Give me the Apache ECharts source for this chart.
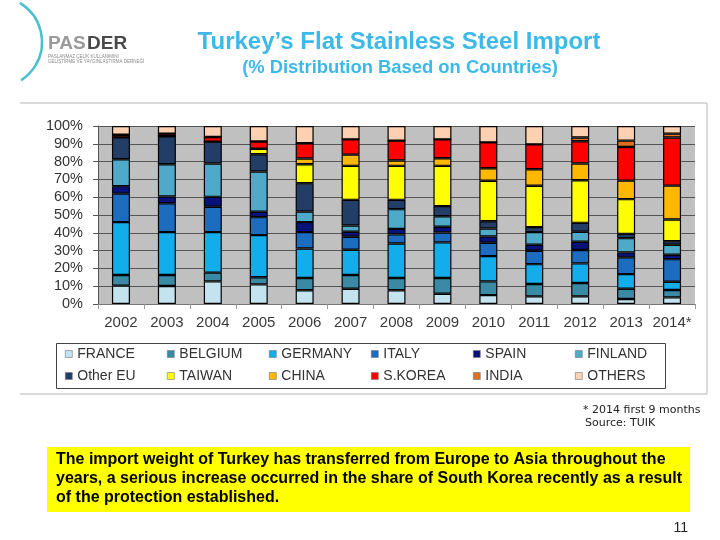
<!DOCTYPE html>
<html><head><meta charset="utf-8">
<script src="https://cdn.jsdelivr.net/npm/echarts@6/dist/echarts.min.js"></script>
<style>html,body{margin:0;padding:0;background:#fff}#c{width:720px;height:540px}</style>
</head><body><div id="c"></div>
<script>
var years = ['2002','2003','2004','2005','2006','2007','2008','2009','2010','2011','2012','2013','2014*'];
var yTicks = [0,10,20,30,40,50,60,70,80,90,100];
var france  = [10.3,10.1,12.7,11.0, 7.7, 8.6, 7.7, 5.8, 5.0, 4.3, 4.3, 2.8, 3.7];
var belgium = [ 6.0, 6.2, 4.9, 4.0, 6.9, 7.7, 6.9, 8.8, 7.7, 6.9, 7.5, 5.8, 4.2];
var germany = [29.7,24.1,22.8,23.7,16.6,14.2,19.4,20.0,14.2,11.2,11.0, 8.2, 4.6];
var italy   = [16.0,16.2,14.2,10.1, 9.2, 7.3, 5.1, 5.6, 7.5, 7.5, 7.5, 9.4,12.7];
var spain   = [ 4.2, 3.8, 5.6, 3.0, 5.6, 2.8, 3.1, 3.2, 3.5, 3.4, 4.7, 2.8, 2.5];
var finland = [15.1,18.1,18.7,22.6, 6.0, 3.5,11.1, 5.9, 4.5, 7.1, 5.6, 8.0, 5.6];
var otherEU = [12.3,15.7,12.3, 9.7,15.9,14.4, 5.2, 5.7, 4.1, 2.8, 5.0, 2.4, 2.0];
var taiwan  = [ 0.0, 0.0, 0.0, 3.1,10.6,19.1,19.1,22.6,22.7,23.2,23.9,19.5,12.2];
var china   = [ 0.0, 0.0, 0.0, 0.0, 3.2, 6.3, 3.0, 4.3, 7.1, 9.3, 9.4,10.4,19.0];
var skorea  = [ 1.5, 1.5, 2.6, 4.1, 8.6, 8.6,11.2,10.6,14.5,14.0,12.5,18.9,27.0];
var india   = [ 0.0, 0.0, 0.0, 0.0, 0.0, 0.0, 0.0, 0.0, 0.0, 0.0, 2.1, 3.6, 2.2];
var others  = [ 4.9, 4.3, 6.2, 8.7, 9.7, 7.5, 8.2, 7.5, 9.2,10.3, 6.5, 8.2, 4.3];

var seriesNames = ['FRANCE','BELGIUM','GERMANY','ITALY','SPAIN','FINLAND','Other EU','TAIWAN','CHINA','S.KOREA','INDIA','OTHERS'];
var seriesData = [france,belgium,germany,italy,spain,finland,otherEU,taiwan,china,skorea,india,others];
var colors = ['#c3e3ef','#3b8aa5','#12adea','#1c6cbf','#06127a','#4eaac8','#233e66','#ffff00','#ffb800','#ff0000','#e07020','#fcd0b0'];

var chart = echarts.init(document.getElementById('c'), null, {renderer:'canvas'});
var F = 'Liberation Sans, Arial, sans-serif';

var series = seriesNames.map(function(n,i){
  return {
    name:n, type:'bar', stack:'all', barWidth:18,
    itemStyle:{color:colors[i], borderColor:'#000', borderWidth:1.2},
    data:seriesData[i]
  };
});

var legends = seriesNames.map(function(n,i){
  return {
    data:[n], left:65 + (i%6)*102, top:(i<6?347:369), orient:'horizontal',
    icon:'rect', itemWidth:7, itemHeight:7, padding:0, itemGap:5,
    itemStyle:{borderWidth:0.6, borderColor:'#777'},
    textStyle:{fontFamily:F, fontSize:14, color:'#333'},
    selectedMode:false
  };
});

chart.setOption({
  animation:false,
  backgroundColor:'#fff',
  color:colors,
  grid:{left:98, right:25, top:126, height:178, show:true, backgroundColor:'#c0c0c0', borderWidth:0},
  xAxis:{type:'category', data:years,
    axisLine:{show:true, lineStyle:{color:'#777', width:1}},
    axisTick:{show:true, length:5, lineStyle:{color:'#999'}},
    axisLabel:{fontFamily:F, fontSize:15, color:'#3a3a3a', margin:11, interval:0}},
  yAxis:{type:'value', min:yTicks[0], max:yTicks[yTicks.length-1], interval:10,
    axisLine:{show:true, lineStyle:{color:'#555', width:1}},
    axisTick:{show:true, length:5, lineStyle:{color:'#555'}},
    axisLabel:{fontFamily:F, fontSize:14.5, color:'#333', margin:15, formatter:'{value}%'},
    splitLine:{show:true, lineStyle:{color:'#555', width:1}}},
  legend:legends,
  series:series,
  graphic:[
    {type:'polyline', silent:true, shape:{points:[[20,103],[707,103],[707,394],[20,394]]}, style:{stroke:'#b5b5b5', fill:null, lineWidth:1}},
    {type:'rect', silent:true, shape:{x:56.5, y:343.5, width:609, height:45}, style:{stroke:'#444', fill:null, lineWidth:1}, z:-1},
    {type:'text', style:{text:'Turkey\u2019s Flat Stainless Steel Import', x:399, y:42, textAlign:'center', textVerticalAlign:'middle', font:'bold 24px '+F, fill:'#3cb9e8'}},
    {type:'text', style:{text:'(% Distribution Based on Countries)', x:400, y:68, textAlign:'center', textVerticalAlign:'middle', font:'bold 18.4px '+F, fill:'#3cb9e8'}},
    {type:'arc', silent:true, shape:{cx:-3.6, cy:42, r:45.6, startAngle:-1.03, endAngle:1.0}, style:{stroke:'#4cc0d0', lineWidth:2.5, fill:null}},
    {type:'text', style:{text:'PAS', x:48, y:44, textVerticalAlign:'middle', font:'bold 19px '+F, fill:'#9a9a9a'}},
    {type:'text', style:{text:'DER', x:87, y:44, textVerticalAlign:'middle', font:'bold 19px '+F, fill:'#4a4a4a'}},
    {type:'text', style:{text:'PASLANMAZ ÇELİK KULLANIMINI', x:48, y:57, textVerticalAlign:'middle', font:'4.5px '+F, fill:'#888'}},
    {type:'text', style:{text:'GELİŞTİRME VE YAYGINLAŞTIRMA DERNEĞİ', x:48, y:62, textVerticalAlign:'middle', font:'4.5px '+F, fill:'#888'}},
    {type:'text', style:{text:'* 2014 first 9 months', x:583, y:410, textVerticalAlign:'middle', font:'11px DejaVu Sans, sans-serif', fill:'#222'}},
    {type:'text', style:{text:'Source: TUIK', x:585, y:423, textVerticalAlign:'middle', font:'11px DejaVu Sans, sans-serif', fill:'#222'}},
    {type:'rect', silent:true, shape:{x:47, y:447, width:643, height:65}, style:{fill:'#ffff00'}},
    {type:'text', style:{text:'The import weight of Turkey has transferred from Europe to Asia throughout the', x:56, y:460, textVerticalAlign:'middle', font:'bold 16px '+F, fill:'#000'}},
    {type:'text', style:{text:'years, a serious increase occurred in the share of South Korea recently as a result', x:56, y:479, textVerticalAlign:'middle', font:'bold 16px '+F, fill:'#000'}},
    {type:'text', style:{text:'of the protection established.', x:56, y:498, textVerticalAlign:'middle', font:'bold 16px '+F, fill:'#000'}},
    {type:'text', style:{text:'11', x:688, y:528, textAlign:'right', textVerticalAlign:'middle', font:'14px '+F, fill:'#222'}}
  ]
});
</script></body></html>
